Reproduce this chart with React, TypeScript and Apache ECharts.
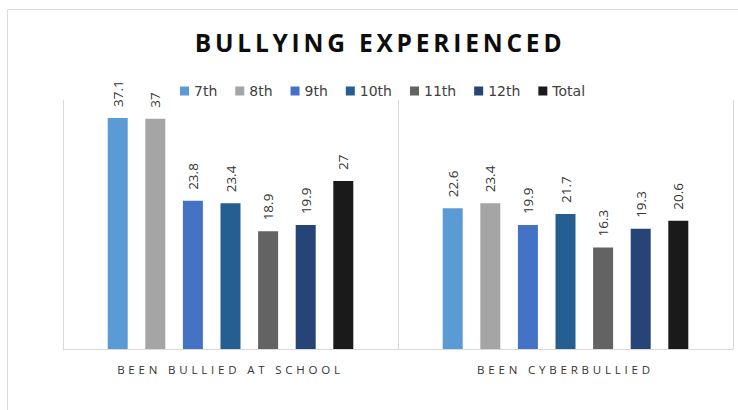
import React, { useEffect, useRef } from "react";
import * as echarts from "echarts";

const TITLE = "BULLYING EXPERIENCED";
const categories = ["BEEN BULLIED AT SCHOOL", "BEEN CYBERBULLIED"];
const grades = ["7th", "8th", "9th", "10th", "11th", "12th", "Total"];
const atSchool = [37.1, 37, 23.8, 23.4, 18.9, 19.9, 27];
const cyberbullied = [22.6, 23.4, 19.9, 21.7, 16.3, 19.3, 20.6];
const colors = ["#5B9BD5", "#A5A5A5", "#4472C4", "#255E91", "#636363", "#264478", "#1A1A1A"];

export default function App() {
  const ref = useRef<HTMLDivElement>(null);
  useEffect(() => {
    if (!ref.current) return;
    const chart = echarts.init(ref.current, null, { renderer: "svg" });
    const series = grades.map((g, i) => ({
      name: g,
      type: "bar",
      data: [atSchool[i], cyberbullied[i]],
      barWidth: 20,
      barGap: "88%",
      itemStyle: { color: colors[i] },
      label: {
        show: true,
        position: "top",
        rotate: 90,
        align: "left",
        verticalAlign: "middle",
        distance: 11,
        fontFamily: "Open Sans",
        fontSize: 13.5,
        color: "#333333",
      },
    }));
    chart.setOption({
      animation: false,
      backgroundColor: "#ffffff",
      title: {
        text: TITLE,
        left: 375,
        textAlign: "center",
        top: 25,
        textStyle: { fontFamily: "Open Sans", fontWeight: "bold", fontSize: 24.5, color: "#0d0d0d" },
      },
      legend: {
        data: grades,
        left: 175,
        top: 79,
        itemWidth: 9,
        itemHeight: 9,
        itemGap: 18,
        icon: "rect",
        textStyle: { fontFamily: "DejaVu Sans", fontSize: 14, color: "#404040" },
      },
      graphic: [
        {
          type: "rect",
          x: 7.5,
          y: 9.5,
          shape: { width: 760, height: 420 },
          style: { fill: "none", stroke: "#d9d9d9", lineWidth: 1 },
          silent: true,
        },
      ],
      grid: { left: 63, right: 5, top: 100, bottom: 61 },
      xAxis: {
        type: "category",
        data: categories,
        axisLine: { lineStyle: { color: "#d9d9d9" } },
        axisTick: { show: false },
        splitLine: { show: true, lineStyle: { color: "#d9d9d9" } },
        axisLabel: { fontFamily: "Open Sans", fontSize: 11.5, color: "#333333", margin: 14 },
      },
      yAxis: {
        type: "value",
        min: 0,
        max: 40,
        show: false,
        splitLine: { show: false },
      },
      series,
    });
    const svg = ref.current.querySelector("svg");
    if (svg) {
      svg.querySelectorAll("text").forEach((t) => {
        const s = t.textContent || "";
        if (s === TITLE) t.setAttribute("letter-spacing", "3.8");
        else if (categories.includes(s)) t.setAttribute("letter-spacing", "3.8");
      });
    }
    return () => chart.dispose();
  }, []);
  return (
    <div
      ref={ref}
      style={{ position: "fixed", left: 0, top: 0, width: 738, height: 410, background: "#fff" }}
    />
  );
}
